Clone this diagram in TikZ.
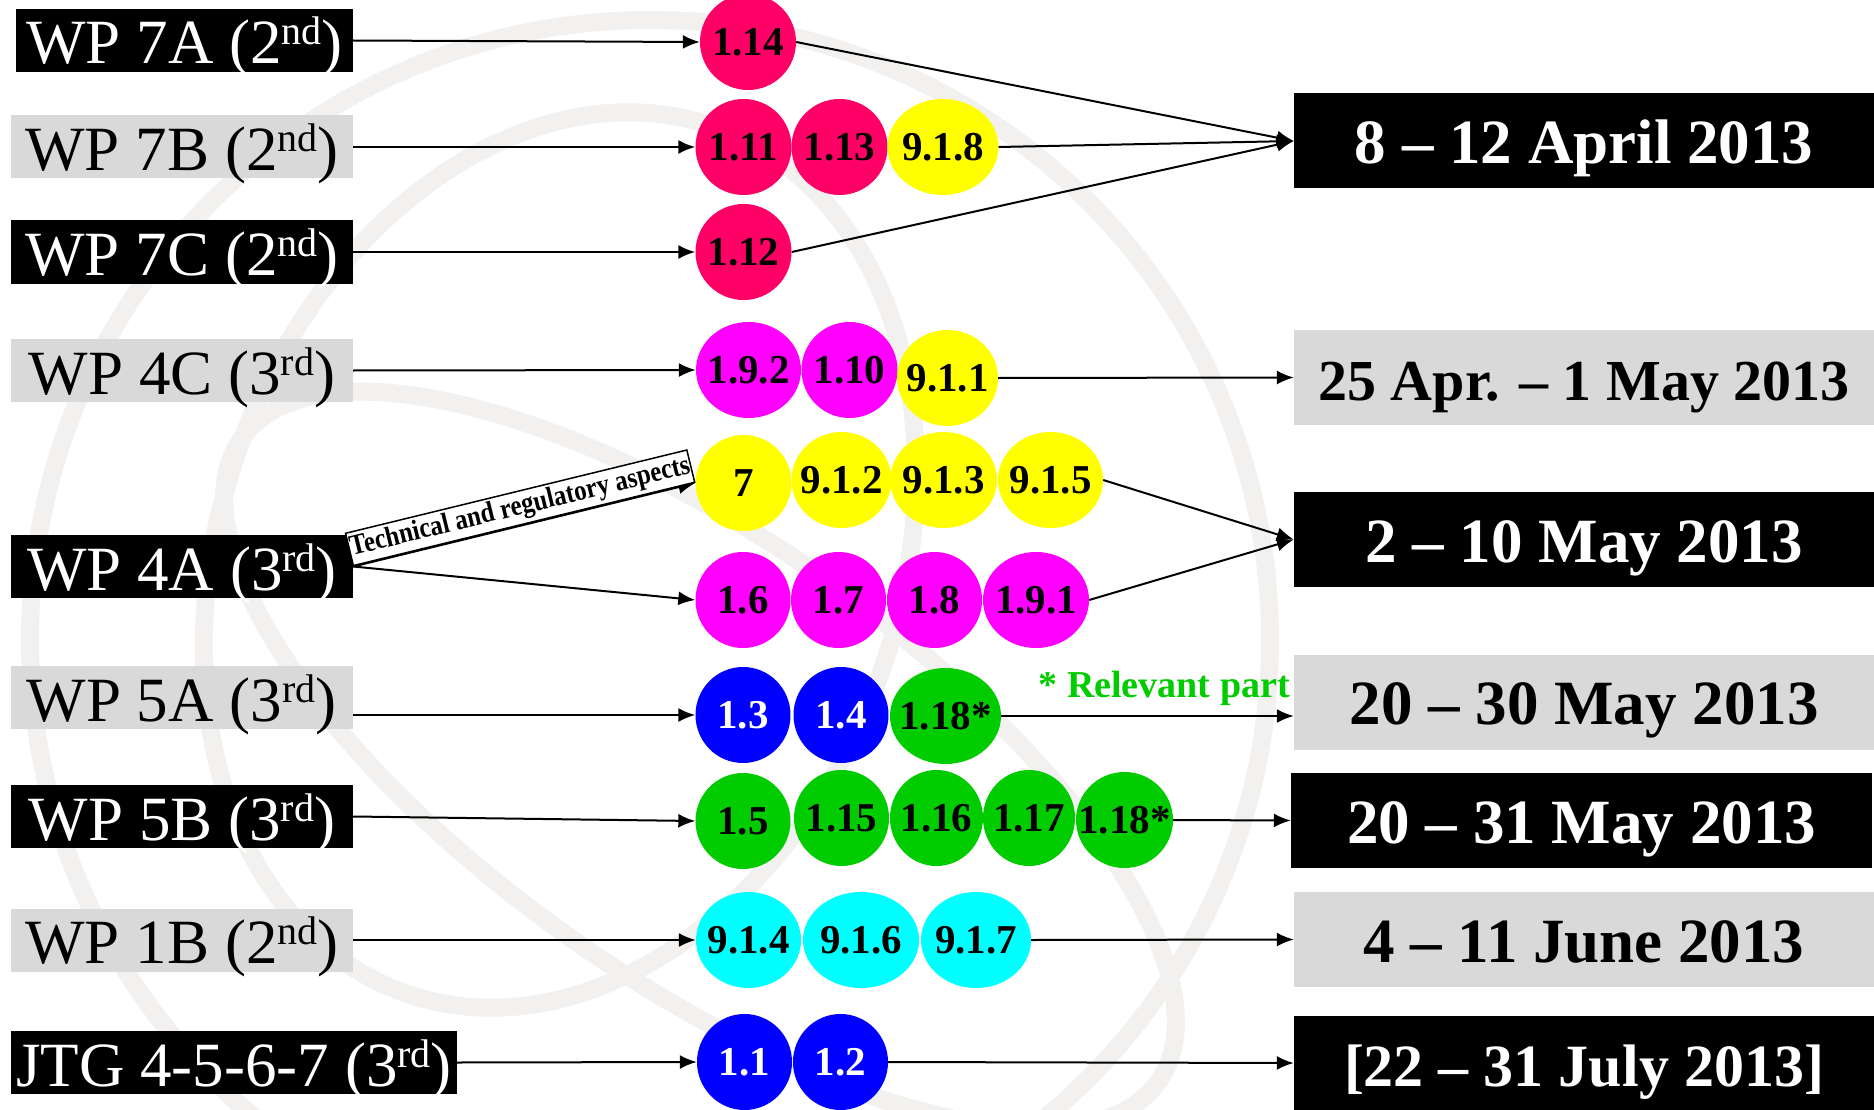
\documentclass[tikz,border=0pt]{standalone}
\usepackage{fontspec}
\setmainfont{Liberation Serif}
\usepackage{tikz}
\usetikzlibrary{shapes.geometric,arrows.meta}
\definecolor{itured}{RGB}{255,0,102}
\definecolor{itumagenta}{RGB}{255,0,255}
\definecolor{ituyellow}{RGB}{255,255,0}
\definecolor{itublue}{RGB}{0,0,255}
\definecolor{itucyan}{RGB}{0,255,255}
\definecolor{itugreen}{RGB}{0,204,0}
\definecolor{boxgray}{RGB}{217,217,217}
\definecolor{watermark}{RGB}{242,241,239}
% raised ordinal suffix and item text that does not widen its ellipse
\newcommand{\ordsup}[1]{\raisebox{19pt}{\fontsize{40}{42}\selectfont #1}}
\newcommand{\itm}[1]{\makebox[0pt]{#1}}

\begin{document}
\begin{tikzpicture}[x=1pt,y=-1pt,>={Latex[length=17pt,width=14pt]},
    wpbox/.style={inner sep=0pt,text height=55pt,text depth=8pt,
      minimum width=342pt,font=\fontsize{63}{70}\selectfont},
    darkbox/.style={fill=black,text=white},
    lightbox/.style={fill=boxgray,text=black},
    datebox/.style={inner sep=0pt,text height=70pt,text depth=25pt,
      minimum width=580pt,font=\bfseries\fontsize{63}{70}\selectfont},
    resbubble/.style={ellipse,inner sep=0pt,minimum height=96pt,
      minimum width=96pt,font=\bfseries\fontsize{41}{45}\selectfont},
    tagbox/.style={fill=white,draw=black,line width=1.5pt,inner xsep=1pt,
      inner ysep=3pt,yscale=1.15,font=\bfseries\fontsize{25}{27}\selectfont},
    feed/.style={->,line width=2pt}]
    \useasboundingbox[fill=white] (0,0) rectangle (1874,1110);

    % Watermark (globe)
    \begin{scope}
      \clip (0,0) rectangle (1874,1110);
      \draw[watermark,line width=18pt] (650,640) circle[radius=620];
      \draw[watermark,line width=18pt,rotate around={-20:(560,560)}]
        (560,560) ellipse[x radius=340,y radius=460];
      \draw[watermark,line width=18pt,rotate around={-35:(700,760)}]
        (700,760) ellipse[x radius=560,y radius=220];
    \end{scope}

    % Working parties
    \node[wpbox,darkbox,minimum width=337pt] (wp7a) at (184.5,40.5) {WP 7A (2\ordsup{nd})};
    \node[wpbox,lightbox] (wp7b) at (182,147) {WP 7B (2\ordsup{nd})};
    \node[wpbox,darkbox] (wp7c) at (182,252) {WP 7C (2\ordsup{nd})};
    \node[wpbox,lightbox] (wp4c) at (182,370.5) {WP 4C (3\ordsup{rd})};
    \node[wpbox,darkbox] (wp4a) at (182,566.5) {WP 4A (3\ordsup{rd})};
    \node[wpbox,lightbox] (wp5a) at (181.5,697.5) {WP 5A (3\ordsup{rd})};
    \node[wpbox,darkbox] (wp5b) at (182,816.5) {WP 5B (3\ordsup{rd})};
    \node[wpbox,lightbox] (wp1b) at (182,940) {WP 1B (2\ordsup{nd})};
    \node[wpbox,darkbox,minimum width=446pt] (jtg) at (234,1062.5) {JTG 4-5-6-7 (3\ordsup{rd})};

    % Meeting dates
    \node[datebox,darkbox] (apr) at (1584,141) {8 -- 12 April 2013};
    \node[datebox,lightbox,font=\bfseries\fontsize{58}{64}\selectfont] (apr25) at (1584,377.5) {25 Apr. -- 1 May 2013};
    \node[datebox,darkbox] (may2) at (1584,539.5) {2 -- 10 May 2013};
    \node[datebox,lightbox] (may20) at (1584,702) {20 -- 30 May 2013};
    \node[datebox,darkbox,minimum width=581pt] (may31) at (1581.5,820.5) {20 -- 31 May 2013};
    \node[datebox,lightbox] (june) at (1584,939.5) {4 -- 11 June 2013};
    \node[datebox,darkbox,text depth=24pt,font=\bfseries\fontsize{60}{66}\selectfont] (july) at (1584,1063) {[22 -- 31 July 2013]};

    % Agenda items, WP 7A / 7B / 7C
    \node[resbubble,fill=itured] (a1) at (748,42) {\itm{1.14}};
    \node[resbubble,fill=itured] (b1) at (743.5,147) {\itm{1.11}};
    \node[resbubble,fill=itured] (b2) at (839.5,147) {\itm{1.13}};
    \node[resbubble,fill=ituyellow,minimum width=111pt] (b3) at (943,147) {\itm{9.1.8}};
    \node[resbubble,fill=itured] (c1) at (743.5,252) {\itm{1.12}};

    % WP 4C
    \node[resbubble,fill=itumagenta,minimum width=105pt] (d1) at (748.5,370) {\itm{1.9.2}};
    \node[resbubble,fill=itumagenta] (d2) at (849.5,370) {\itm{1.10}};
    \node[resbubble,fill=ituyellow,minimum width=101pt] (d3) at (947.5,378) {\itm{9.1.1}};

    % WP 4A
    \node[resbubble,fill=ituyellow] (e1) at (743.5,483) {\itm{7}};
    \node[resbubble,fill=ituyellow,minimum width=100pt] (e2) at (841.5,480) {\itm{9.1.2}};
    \node[resbubble,fill=ituyellow,minimum width=107pt] (e3) at (943.5,480) {\itm{9.1.3}};
    \node[resbubble,fill=ituyellow,minimum width=105pt] (e4) at (1050.5,480) {\itm{9.1.5}};
    \node[resbubble,fill=itumagenta,minimum width=95pt] (f1) at (743,600) {\itm{1.6}};
    \node[resbubble,fill=itumagenta,minimum width=95pt] (f2) at (838.5,600) {\itm{1.7}};
    \node[resbubble,fill=itumagenta,minimum width=95pt] (f3) at (934.5,600) {\itm{1.8}};
    \node[resbubble,fill=itumagenta,minimum width=106pt] (f4) at (1036,600) {\itm{1.9.1}};

    % WP 5A / 5B
    \node[resbubble,fill=itublue,text=white,minimum width=95pt] (g1) at (743,715) {\itm{1.3}};
    \node[resbubble,fill=itublue,text=white,minimum width=95pt] (g2) at (841,715) {\itm{1.4}};
    \node[resbubble,fill=itugreen,minimum width=111pt] (g3) at (945.5,716) {\itm{1.18*}};
    \node[resbubble,fill=itugreen,minimum width=95pt] (h1) at (743,821) {\itm{1.5}};
    \node[resbubble,fill=itugreen,minimum width=95pt] (h2) at (841.5,818) {\itm{1.15}};
    \node[resbubble,fill=itugreen,minimum width=93pt] (h3) at (936.5,818) {\itm{1.16}};
    \node[resbubble,fill=itugreen,minimum width=92pt] (h4) at (1029,818) {\itm{1.17}};
    \node[resbubble,fill=itugreen,minimum width=97pt] (h5) at (1124.5,820) {\itm{1.18*}};
    \node[anchor=base west,text=itugreen,font=\bfseries\fontsize{38}{40}\selectfont]
      (relnote) at (1035,697) {* Relevant part};

    % WP 1B and JTG
    \node[resbubble,fill=itucyan,minimum width=105pt] (i1) at (748.5,940) {\itm{9.1.4}};
    \node[resbubble,fill=itucyan,minimum width=116pt] (i2) at (861,940) {\itm{9.1.6}};
    \node[resbubble,fill=itucyan,minimum width=110pt] (i3) at (976,940) {\itm{9.1.7}};
    \node[resbubble,fill=itublue,text=white,minimum width=95pt] (j1) at (744.5,1062) {\itm{1.1}};
    \node[resbubble,fill=itublue,text=white,minimum width=95pt] (j2) at (840.5,1062) {\itm{1.2}};

    % Working parties to agenda items
    \draw[feed] (wp7a.east) -- (a1.west);
    \draw[feed] (wp7b.east) -- (b1.west);
    \draw[feed] (wp7c.east) -- (c1.west);
    \draw[feed] (wp4c.east) -- (d1.west);
    \draw[feed] (wp4a.east) -- node[tagbox,sloped,above] (tag) {Technical and regulatory aspects} (e1.west);
    \draw[feed] (wp4a.east) -- (f1.west);
    \draw[feed] (wp5a.east |- g1.west) -- (g1.west);
    \draw[feed] (wp5b.east) -- (h1.west);
    \draw[feed] (wp1b.east) -- (i1.west);
    \draw[feed] (jtg.east) -- (j1.west);

    % Agenda items to meetings
    \draw[feed] (a1.east) -- (apr.west);
    \draw[feed] (b3.east) -- (apr.west);
    \draw[feed] (c1.east) -- (apr.west);
    \draw[feed] (d3.east) -- (apr25.west);
    \draw[feed] (e4.east) -- (may2.west);
    \draw[feed] (f4.east) -- (may2.west);
    \draw[feed] (g3.east) -- (may20.west |- g3.east);
    \draw[feed] (h5.east) -- (may31.west);
    \draw[feed] (i3.east) -- (june.west);
    \draw[feed] (j2.east) -- (july.west);

\end{tikzpicture}
\end{document}
